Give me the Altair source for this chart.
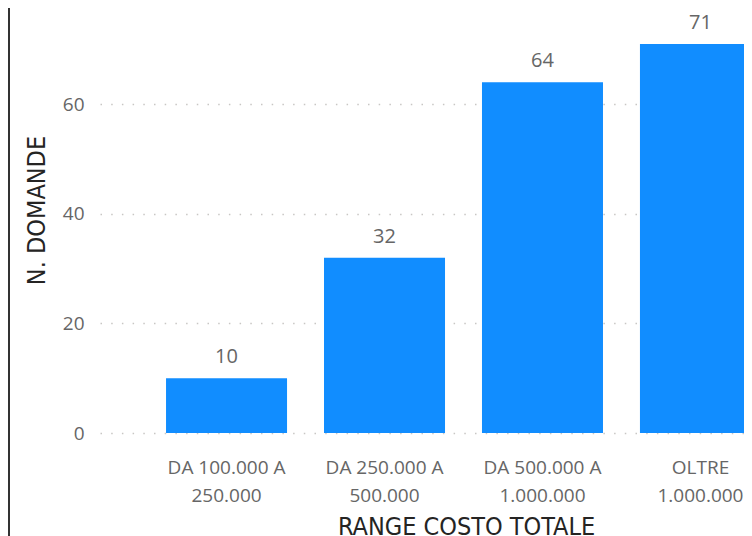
import altair as alt
import pandas as pd

categories = ["DA 100.000 A 250.000", "DA 250.000 A 500.000", "DA 500.000 A 1.000.000", "OLTRE 1.000.000"]
values = [10, 32, 64, 71]
y_ticks = [0, 20, 40, 60]

df = pd.DataFrame({"range": categories, "n": values})

label_font = "Open Sans"
title_font = "DejaVu Sans Condensed"

x_enc = alt.X(
    "range:N",
    sort=categories,
    title="RANGE COSTO TOTALE",
    scale=alt.Scale(paddingInner=0.234, paddingOuter=0.418, range=[0, 727]),
    axis=alt.Axis(
        labelAngle=0,
        domain=False,
        ticks=False,
        labelFont=label_font,
        labelFontSize=19,
        labelColor="#666666",
        labelPadding=25,
        labelLineHeight=28,
        labelExpr="indexof(datum.label,' A ')>0 ? [slice(datum.label,0,indexof(datum.label,' A ')+2), slice(datum.label,indexof(datum.label,' A ')+3)] : split(datum.label,' ')",
        titleFont=title_font,
        titleFontSize=25,
        titleFontWeight="normal",
        titleColor="#252423",
        titleX=366,
        titleY=101,
        titleAlign="center",
        titleBaseline="alphabetic",
    ),
)

bars = alt.Chart(df).mark_bar(color="#118DFF").encode(
    x=x_enc,
    y=alt.Y(
        "n:Q",
        title="N. DOMANDE",
        scale=alt.Scale(domain=[0, 71], nice=False),
        axis=alt.Axis(
            values=y_ticks,
            domain=False,
            ticks=False,
            grid=True,
            gridDash=[1.5, 9.2],
            gridColor="#C8C6C4",
            gridWidth=1.5,
            labelFont=label_font,
            labelFontSize=19,
            labelColor="#666666",
            labelPadding=16,
            titleFont=title_font,
            titleFontSize=25,
            titleFontWeight="normal",
            titleColor="#252423",
            titleX=-64,
            titleY=166,
            titleAlign="center",
            titleBaseline="middle",
        ),
    ),
)

text = alt.Chart(df).mark_text(
    baseline="alphabetic", dy=-15, font=label_font, fontSize=20, color="#666666"
).encode(
    x=alt.X("range:N", sort=categories),
    y="n:Q",
    text="n:Q",
)

border = alt.Chart(df).mark_rule(color="#333333", strokeWidth=2).encode(
    x=alt.value(-91), y=alt.value(-60), y2=alt.value(600)
)

chart = (
    alt.layer(bars, text, border)
    .properties(
        width=644,
        height=389,
        autosize=alt.AutoSizeParams(type="none"),
        padding={"left": 92, "top": 36, "right": 0, "bottom": 103},
    )
    .configure_view(stroke=None)
)

chart.save("out.html", embed_options={"renderer": "svg", "actions": False})
